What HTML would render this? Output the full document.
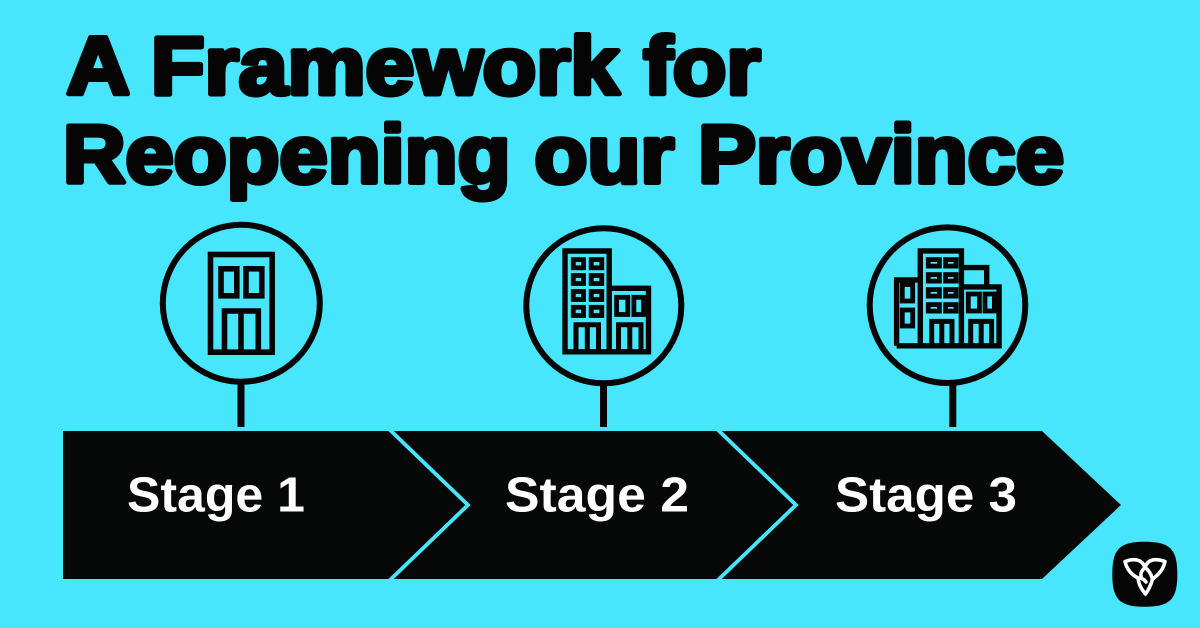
<!DOCTYPE html>
<html><head><meta charset="utf-8"><style>
html,body{margin:0;padding:0;background:#48e6fc}
svg{display:block}
</style></head><body>
<svg xmlns="http://www.w3.org/2000/svg" width="1200" height="628" viewBox="0 0 1200 628">
<rect width="1200" height="628" fill="#48e6fc"/>
<g font-family="'Liberation Sans',sans-serif" font-weight="700" fill="#050505" stroke="#050505" stroke-width="5" stroke-linejoin="round" font-size="81.500">
<text x="66.500" y="94.200" textLength="694" lengthAdjust="spacingAndGlyphs">A Framework for</text>
<text x="63" y="182.500" textLength="1001" lengthAdjust="spacingAndGlyphs">Reopening our Province</text>
</g>
<polygon points="63,431 1042,431 1121,505 1042,579 63,579" fill="#070808"/>
<g fill="none" stroke="#48e6fc" stroke-width="3.800">
<polyline points="389,429 468,505 389,581"/>
<polyline points="717,429 796,505 717,581"/>
</g>
<g font-family="'Liberation Sans',sans-serif" font-weight="700" fill="#fff" font-size="49">
<text x="127" y="511.500" textLength="178" lengthAdjust="spacingAndGlyphs">Stage 1</text>
<text x="505" y="511.500" textLength="184" lengthAdjust="spacingAndGlyphs">Stage 2</text>
<text x="835" y="511.500" textLength="182" lengthAdjust="spacingAndGlyphs">Stage 3</text>
</g>
<g fill="none" stroke="#050505" stroke-width="6">
<circle cx="241.300" cy="303.300" r="78.500"/>
<circle cx="603.800" cy="305.800" r="77.500"/>
<circle cx="947.500" cy="305.200" r="77.800"/>
</g>
<g fill="#050505">
<rect x="237.500" y="383" width="7" height="44"/>
<rect x="600" y="385" width="7" height="42"/>
<rect x="949.300" y="385" width="7" height="42"/>
</g>
<!-- building 1 -->
<g fill="none" stroke="#050505" stroke-width="5.600">
<rect x="210.500" y="254.500" width="61.700" height="97.700"/>
<rect x="221" y="268.800" width="15.800" height="27"/>
<rect x="246" y="268.800" width="15.800" height="27"/>
<path d="M224.500 352V311H258.300V352M241 311V352"/>
</g>
<!-- building 2 -->
<g fill="none" stroke="#050505" stroke-width="5.400">
<path d="M565 351.800V251H609.200V351.800ZM609.200 288.300H648.500V351.800H609.200"/>
<g stroke-width="4.800">
<rect x="573.300" y="259.600" width="10.200" height="8.200"/><rect x="591.200" y="259.600" width="10.600" height="8.200"/>
<rect x="573.300" y="275.500" width="10.200" height="8"/><rect x="591.200" y="275.500" width="10.600" height="8"/>
<rect x="573.300" y="291.500" width="10.200" height="8"/><rect x="591.200" y="291.500" width="10.600" height="8"/>
<rect x="573.300" y="307.300" width="10.200" height="8.200"/><rect x="591.200" y="307.300" width="10.600" height="8.200"/>
<rect x="616.600" y="297.300" width="11.200" height="17.200"/><rect x="633.900" y="297.300" width="9.600" height="17.200"/>
</g>
<path stroke-width="5" d="M576 351V324.700H598.500V351M587.300 324.700V351M618.500 351V324.700H641V351M629.800 324.700V351"/>
</g>
<!-- building 3 -->
<g fill="none" stroke="#050505" stroke-width="5.400">
<path d="M896.600 345.800V279.900H920.300M920.300 345.800V250.900H961.400V345.800M961.400 286.900H999.100V345.800H896.600M961.400 267.600H986.700V286.900"/>
<g stroke-width="4.800">
<rect x="902.300" y="284.600" width="10.400" height="16.400"/><rect x="902.300" y="310" width="10.400" height="16"/>
<rect x="928.300" y="259.600" width="11.100" height="6.500"/><rect x="945.600" y="259.600" width="10.400" height="6.500"/>
<rect x="928.300" y="274.600" width="11.100" height="6.500"/><rect x="945.600" y="274.600" width="10.400" height="6.500"/>
<rect x="928.300" y="289.600" width="11.100" height="6.500"/><rect x="945.600" y="289.600" width="10.400" height="6.500"/>
<rect x="928.300" y="304.600" width="11.100" height="6.500"/><rect x="945.600" y="304.600" width="10.400" height="6.500"/>
<rect x="968.300" y="294" width="11.100" height="17"/><rect x="985" y="294" width="9.400" height="17"/>
</g>
<path stroke-width="5" d="M931.700 346V321.400H952V346M941.800 321.400V346M970.700 346V321.400H991.600V346M981.200 321.400V346"/>
</g>
<!-- logo -->
<path d="M1144.800 541.700C1170 541.700 1177.300 549 1177.300 574.200C1177.300 599.400 1170 606.700 1144.800 606.700C1119.600 606.700 1112.300 599.400 1112.300 574.200C1112.300 549 1119.600 541.700 1144.800 541.700Z" fill="#050505"/>
<g fill="none" stroke="#fff" stroke-width="3.600" stroke-linejoin="round" stroke-linecap="round">
<path d="M1125 561.500C1133 558.500 1142 558.500 1145 567.500C1148 558.500 1156 558.500 1165 561.500C1163 571 1157 576 1152.500 579C1151 585 1148.500 590 1145.500 594C1142 590 1138.500 584 1138 578C1132 575 1127 570 1125 561.500Z"/>
<path d="M1145 567.500C1141 571 1140 574 1141.500 578M1152.500 579C1151 574 1149 570 1145 567.500M1138 578C1141 578 1144 579 1146 582"/>
</g>
</svg>
</body></html>
